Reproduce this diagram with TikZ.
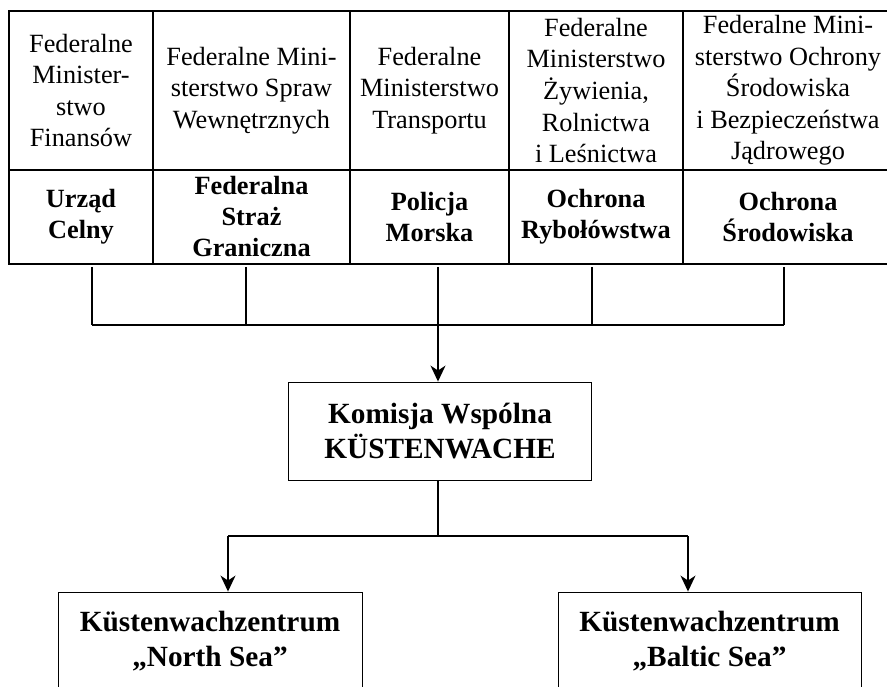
\documentclass[tikz,border=0pt]{standalone}
\usepackage{fontspec}
\setmainfont{Liberation Serif}
\usetikzlibrary{arrows.meta}
\begin{document}
\begin{tikzpicture}[x=1pt,y=-1pt]
    \tikzset{
        cell/.style={draw, line width=1.2pt, inner sep=0, align=center,
            font={\fontsize{26.3}{31.6}\selectfont}},
        ministry/.style={cell, minimum height=159},
        unit/.style={cell, minimum height=94, font={\fontsize{26.3}{31}\selectfont\bfseries}},
        office/.style={draw, line width=0.9pt, inner sep=0, align=center, minimum height=98,
            font={\fontsize{29.3}{35}\selectfont\bfseries}},
        link/.style={line width=1.5pt},
        arc/.style={line width=1.5pt, -{Stealth[length=16pt,width=15pt,inset=5pt]}}
    }
    \path[use as bounding box] (0,0) rectangle (887,687);
    \clip (0,0) rectangle (887,687);
    % ministries
    \draw node[ministry, minimum width=144] (m1) at (81,90.5) {Federalne\\Minister-\\stwo\\Finansów};
    \draw node[ministry, minimum width=197] (m2) at (251.5,90.5) {Federalne Mini-\\sterstwo Spraw\\Wewnętrznych};
    \draw node[ministry, minimum width=159] (m3) at (429.5,90.5) {Federalne\\Ministerstwo\\Transportu};
    \draw node[ministry, minimum width=174] (m4) at (596,90.5) {Federalne\\Ministerstwo\\Żywienia,\\Rolnictwa\\i Leśnictwa};
    \draw node[ministry, minimum width=210] (m5) at (788,90.5) {Federalne Mini-\\sterstwo Ochrony\\Środowiska\\i Bezpieczeństwa\\Jądrowego};
    % services
    \draw node[unit, minimum width=144] (u1) at (81,217) {Urząd\\Celny};
    \draw node[unit, minimum width=197] (u2) at (251.5,217) {Federalna\\Straż\\Graniczna};
    \draw node[unit, minimum width=159] (u3) at (429.5,217) {Policja\\Morska};
    \draw node[unit, minimum width=174] (u4) at (596,217) {Ochrona\\Rybołówstwa};
    \draw node[unit, minimum width=210] (u5) at (788,217) {Ochrona\\Środowiska};
    % coast guard
    \draw node[office, minimum width=303] (kw) at (440,431) {Komisja Wspólna\\KÜSTENWACHE};
    \draw node[office, minimum width=304] (ns) at (210,641) {Küstenwachzentrum\\„North Sea”};
    \draw node[office, minimum width=303] (bs) at (709.5,641) {Küstenwachzentrum\\„Baltic Sea”};
    \coordinate (d1) at (92,267);
    \coordinate (d2) at (246,267);
    \coordinate (d3) at (438,267);
    \coordinate (d4) at (592,267);
    \coordinate (d5) at (784,267);
    \coordinate (bus) at (0,325);
    \coordinate (sl) at (228,536);
    \coordinate (sr) at (688,536);
    \foreach \x in {d1,d2,d4,d5}
    {
        \draw[link] (\x) -- (\x |- bus);
    }
    \draw[link] (d1 |- bus) -- (d5 |- bus);
    \draw (d3) edge[arc] (d3 |- kw.north);
    \draw[link] (d3 |- kw.south) -- (d3 |- sl);
    \draw[link] (sl) -- (sr);
    \draw (sl) edge[arc] (sl |- ns.north);
    \draw (sr) edge[arc] (sr |- bs.north);
\end{tikzpicture}
\end{document}
